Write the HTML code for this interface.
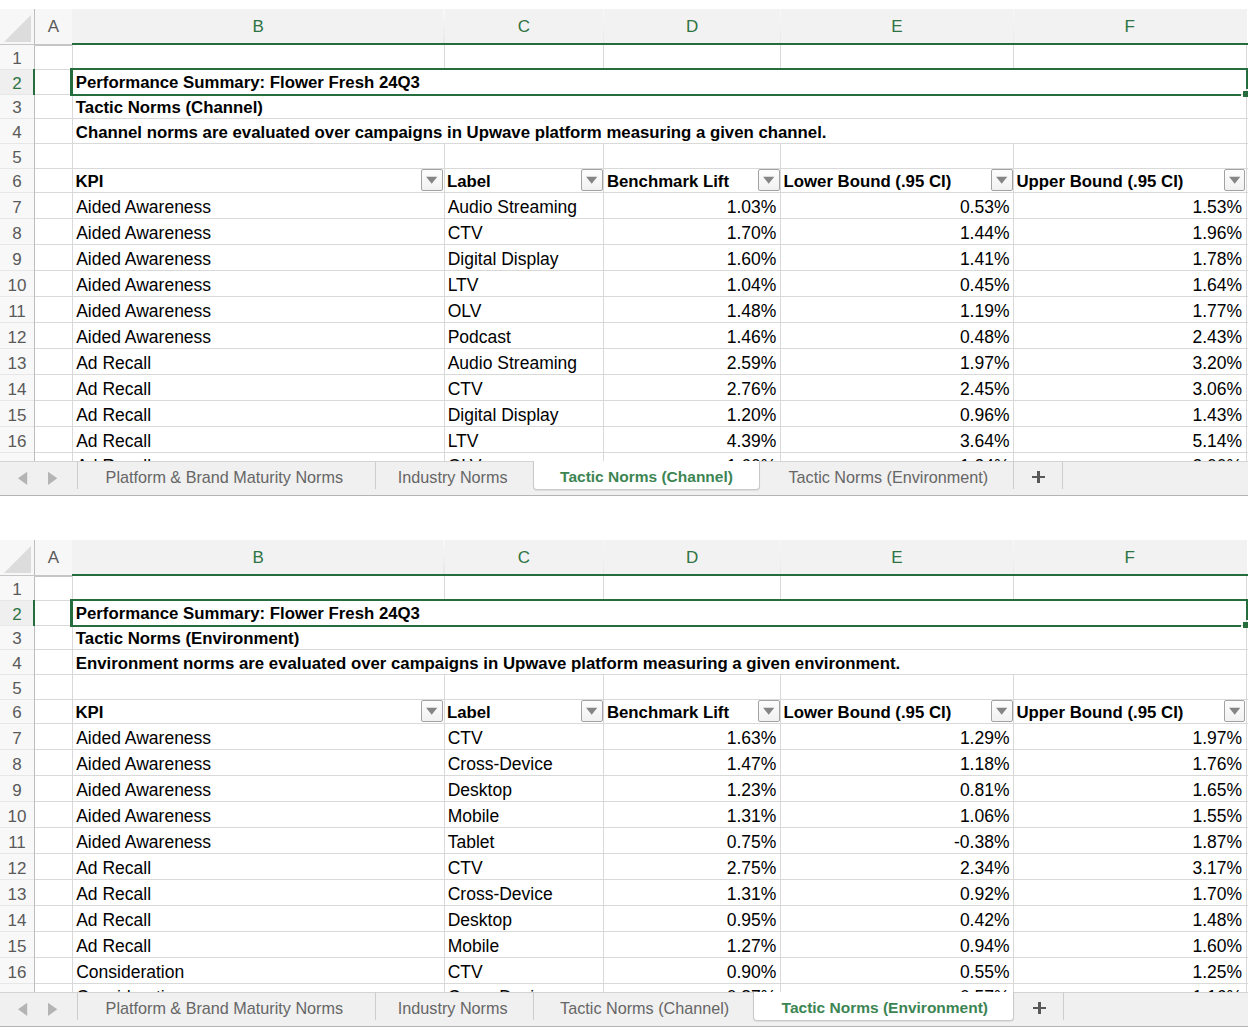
<!DOCTYPE html>
<html><head><meta charset="utf-8"><style>
html,body{margin:0;padding:0;background:#fff;}
body{width:1256px;height:1036px;position:relative;overflow:hidden;font-family:"Liberation Sans", sans-serif;}
.panel{position:absolute;left:0;width:1256px;height:500px;}
.abs{position:absolute;}
.hl{font-size:17px;line-height:20px;text-align:center;white-space:nowrap;}
.ct{font-size:17.5px;line-height:20px;white-space:nowrap;color:#000;}
.b{font-weight:bold;font-size:16.8px;}
.dd{width:21.9px;height:21.4px;box-sizing:border-box;border:1px solid #a3a3a3;border-radius:2px;background:linear-gradient(#fdfdfd,#f1f1f1);}
.tab{font-size:16.2px;line-height:20px;white-space:nowrap;color:#666;}
.act{font-size:15.5px;font-weight:bold;color:#3c8553;}
</style></head>
<body>
<div class="panel" style="top:0px">
<div class="abs" style="left:0;top:9px;width:34.4px;height:36px;background:#f7f7f7"></div>
<div class="abs" style="left:34.4px;top:9px;width:38px;height:36px;background:#f7f7f7"></div>
<div class="abs" style="left:72.4px;top:9px;width:1175px;height:36px;background:#f2f2f2"></div>
<svg class="abs" style="left:0;top:0" width="40" height="50"><polygon points="4,42 31,15 31,42" fill="#dcdcdc"/></svg>
<div class="abs" style="left:34px;top:9px;width:1px;height:452.4px;background:#bdbdbd"></div>
<div class="abs" style="left:443.4px;top:9px;width:1.2px;height:34px;background:linear-gradient(#f9f9f9,#e8e8e8)"></div>
<div class="abs" style="left:603.3px;top:9px;width:1.2px;height:34px;background:linear-gradient(#f9f9f9,#e8e8e8)"></div>
<div class="abs" style="left:779.9px;top:9px;width:1.2px;height:34px;background:linear-gradient(#f9f9f9,#e8e8e8)"></div>
<div class="abs" style="left:1012.9px;top:9px;width:1.2px;height:34px;background:linear-gradient(#f9f9f9,#e8e8e8)"></div>
<div class="abs" style="left:0;top:43.9px;width:72.4px;height:2px;background:#c6c6c6"></div>
<div class="abs" style="left:72.4px;top:43.3px;width:1175.5px;height:2.2px;background:#256d3d"></div>
<div class="abs hl" style="left:34.4px;width:37.9px;top:17.3px;color:#5a5a5a">A</div>
<div class="abs hl" style="left:72.4px;width:371.6px;top:17.3px;color:#2e7443">B</div>
<div class="abs hl" style="left:443.9px;width:160px;top:17.3px;color:#2e7443">C</div>
<div class="abs hl" style="left:603.9px;width:176.6px;top:17.3px;color:#2e7443">D</div>
<div class="abs hl" style="left:780.5px;width:233px;top:17.3px;color:#2e7443">E</div>
<div class="abs hl" style="left:1013.5px;width:232.6px;top:17.3px;color:#2e7443">F</div>
<div class="abs" style="left:0;top:45.4px;width:34px;height:416px;background:#f8f8f8"></div>
<div class="abs" style="left:0;top:69.3px;width:34px;height:25.1px;background:#efefef"></div>
<div class="abs" style="left:0;top:68.8px;width:34px;height:1px;background:#e7e7e7"></div>
<div class="abs" style="left:35px;top:68.8px;width:1212.5px;height:1px;background:#d9d9d9"></div>
<div class="abs" style="left:0;top:93.9px;width:34px;height:1px;background:#e7e7e7"></div>
<div class="abs" style="left:35px;top:93.9px;width:1212.5px;height:1px;background:#d9d9d9"></div>
<div class="abs" style="left:0;top:118.45px;width:34px;height:1px;background:#e7e7e7"></div>
<div class="abs" style="left:35px;top:118.45px;width:1212.5px;height:1px;background:#d9d9d9"></div>
<div class="abs" style="left:0;top:143.27px;width:34px;height:1px;background:#e7e7e7"></div>
<div class="abs" style="left:35px;top:143.27px;width:1212.5px;height:1px;background:#d9d9d9"></div>
<div class="abs" style="left:0;top:168.17px;width:34px;height:1px;background:#e7e7e7"></div>
<div class="abs" style="left:35px;top:168.17px;width:1212.5px;height:1px;background:#d9d9d9"></div>
<div class="abs" style="left:0;top:192.4px;width:34px;height:1px;background:#e7e7e7"></div>
<div class="abs" style="left:35px;top:192.4px;width:1212.5px;height:1px;background:#d9d9d9"></div>
<div class="abs" style="left:0;top:218.35px;width:34px;height:1px;background:#e7e7e7"></div>
<div class="abs" style="left:35px;top:218.35px;width:1212.5px;height:1px;background:#d9d9d9"></div>
<div class="abs" style="left:0;top:244.3px;width:34px;height:1px;background:#e7e7e7"></div>
<div class="abs" style="left:35px;top:244.3px;width:1212.5px;height:1px;background:#d9d9d9"></div>
<div class="abs" style="left:0;top:270.25px;width:34px;height:1px;background:#e7e7e7"></div>
<div class="abs" style="left:35px;top:270.25px;width:1212.5px;height:1px;background:#d9d9d9"></div>
<div class="abs" style="left:0;top:296.2px;width:34px;height:1px;background:#e7e7e7"></div>
<div class="abs" style="left:35px;top:296.2px;width:1212.5px;height:1px;background:#d9d9d9"></div>
<div class="abs" style="left:0;top:322.15px;width:34px;height:1px;background:#e7e7e7"></div>
<div class="abs" style="left:35px;top:322.15px;width:1212.5px;height:1px;background:#d9d9d9"></div>
<div class="abs" style="left:0;top:348.1px;width:34px;height:1px;background:#e7e7e7"></div>
<div class="abs" style="left:35px;top:348.1px;width:1212.5px;height:1px;background:#d9d9d9"></div>
<div class="abs" style="left:0;top:374.05px;width:34px;height:1px;background:#e7e7e7"></div>
<div class="abs" style="left:35px;top:374.05px;width:1212.5px;height:1px;background:#d9d9d9"></div>
<div class="abs" style="left:0;top:400px;width:34px;height:1px;background:#e7e7e7"></div>
<div class="abs" style="left:35px;top:400px;width:1212.5px;height:1px;background:#d9d9d9"></div>
<div class="abs" style="left:0;top:425.95px;width:34px;height:1px;background:#e7e7e7"></div>
<div class="abs" style="left:35px;top:425.95px;width:1212.5px;height:1px;background:#d9d9d9"></div>
<div class="abs" style="left:0;top:451.9px;width:34px;height:1px;background:#e7e7e7"></div>
<div class="abs" style="left:35px;top:451.9px;width:1212.5px;height:1px;background:#d9d9d9"></div>
<div class="abs" style="left:71.8px;top:45.4px;width:1px;height:416px;background:#d9d9d9"></div>
<div class="abs" style="left:443.5px;top:45.4px;width:1px;height:23.9px;background:#d9d9d9"></div>
<div class="abs" style="left:443.5px;top:143.5px;width:1px;height:317.9px;background:#d9d9d9"></div>
<div class="abs" style="left:603.4px;top:45.4px;width:1px;height:23.9px;background:#d9d9d9"></div>
<div class="abs" style="left:603.4px;top:143.5px;width:1px;height:317.9px;background:#d9d9d9"></div>
<div class="abs" style="left:780px;top:45.4px;width:1px;height:23.9px;background:#d9d9d9"></div>
<div class="abs" style="left:780px;top:143.5px;width:1px;height:317.9px;background:#d9d9d9"></div>
<div class="abs" style="left:1013px;top:45.4px;width:1px;height:23.9px;background:#d9d9d9"></div>
<div class="abs" style="left:1013px;top:143.5px;width:1px;height:317.9px;background:#d9d9d9"></div>
<div class="abs" style="left:1245.6px;top:45.4px;width:1px;height:416px;background:#d9d9d9"></div>
<div class="abs hl" style="left:0;width:34px;top:48.6px;color:#5a5a5a">1</div>
<div class="abs hl" style="left:0;width:34px;top:73.7px;color:#2e7443">2</div>
<div class="abs hl" style="left:0;width:34px;top:98.25px;color:#5a5a5a">3</div>
<div class="abs hl" style="left:0;width:34px;top:123.07px;color:#5a5a5a">4</div>
<div class="abs hl" style="left:0;width:34px;top:147.97px;color:#5a5a5a">5</div>
<div class="abs hl" style="left:0;width:34px;top:172.2px;color:#5a5a5a">6</div>
<div class="abs hl" style="left:0;width:34px;top:198.15px;color:#5a5a5a">7</div>
<div class="abs hl" style="left:0;width:34px;top:224.1px;color:#5a5a5a">8</div>
<div class="abs hl" style="left:0;width:34px;top:250.05px;color:#5a5a5a">9</div>
<div class="abs hl" style="left:0;width:34px;top:276px;color:#5a5a5a">10</div>
<div class="abs hl" style="left:0;width:34px;top:301.95px;color:#5a5a5a">11</div>
<div class="abs hl" style="left:0;width:34px;top:327.9px;color:#5a5a5a">12</div>
<div class="abs hl" style="left:0;width:34px;top:353.85px;color:#5a5a5a">13</div>
<div class="abs hl" style="left:0;width:34px;top:379.8px;color:#5a5a5a">14</div>
<div class="abs hl" style="left:0;width:34px;top:405.75px;color:#5a5a5a">15</div>
<div class="abs hl" style="left:0;width:34px;top:431.7px;color:#5a5a5a">16</div>
<div class="abs hl" style="left:0;width:34px;top:457.7px;color:#5a5a5a">17</div>
<div class="abs" style="left:32.6px;top:68.9px;width:2.4px;height:25.9px;background:#256d3d"></div>
<div class="abs" style="left:70.1px;top:67.6px;width:1177.8px;height:2.4px;background:#256d3d"></div>
<div class="abs" style="left:70.1px;top:67.6px;width:2.9px;height:28.4px;background:#256d3d"></div>
<div class="abs" style="left:70.1px;top:93.6px;width:1171px;height:2.4px;background:#256d3d"></div>
<div class="abs" style="left:1245.5px;top:67.6px;width:2.4px;height:21.7px;background:#256d3d"></div>
<div class="abs" style="left:1242.9px;top:91px;width:5px;height:6.4px;background:#256d3d"></div>
<div class="abs ct b" style="left:75.8px;top:73.3px">Performance Summary: Flower Fresh 24Q3</div>
<div class="abs ct b" style="left:75.8px;top:97.6px">Tactic Norms (Channel)</div>
<div class="abs ct b" style="left:75.8px;top:122.6px">Channel norms are evaluated over campaigns in Upwave platform measuring a given channel.</div>
<div class="abs ct b" style="left:75.4px;top:171.9px">KPI</div>
<div class="abs ct b" style="left:446.9px;top:171.9px">Label</div>
<div class="abs ct b" style="left:606.9px;top:171.9px">Benchmark Lift</div>
<div class="abs ct b" style="left:783.5px;top:171.9px">Lower Bound (.95 CI)</div>
<div class="abs ct b" style="left:1016.5px;top:171.9px">Upper Bound (.95 CI)</div>
<div class="abs dd" style="left:421.4px;top:169.3px"><svg width="21" height="21" style="position:absolute;left:-1px;top:-1px"><polygon points="5.1,7.8 16.3,7.8 10.7,14.8" fill="#858585"/></svg></div>
<div class="abs dd" style="left:581.3px;top:169.3px"><svg width="21" height="21" style="position:absolute;left:-1px;top:-1px"><polygon points="5.1,7.8 16.3,7.8 10.7,14.8" fill="#858585"/></svg></div>
<div class="abs dd" style="left:757.9px;top:169.3px"><svg width="21" height="21" style="position:absolute;left:-1px;top:-1px"><polygon points="5.1,7.8 16.3,7.8 10.7,14.8" fill="#858585"/></svg></div>
<div class="abs dd" style="left:990.9px;top:169.3px"><svg width="21" height="21" style="position:absolute;left:-1px;top:-1px"><polygon points="5.1,7.8 16.3,7.8 10.7,14.8" fill="#858585"/></svg></div>
<div class="abs dd" style="left:1223.5px;top:169.3px"><svg width="21" height="21" style="position:absolute;left:-1px;top:-1px"><polygon points="5.1,7.8 16.3,7.8 10.7,14.8" fill="#858585"/></svg></div>
<div class="abs ct" style="left:76.2px;top:197.35px">Aided Awareness</div>
<div class="abs ct" style="left:447.7px;top:197.35px">Audio Streaming</div>
<div class="abs ct" style="left:476.3px;width:300px;text-align:right;top:197.35px">1.03%</div>
<div class="abs ct" style="left:709.5px;width:300px;text-align:right;top:197.35px">0.53%</div>
<div class="abs ct" style="left:942.1px;width:300px;text-align:right;top:197.35px">1.53%</div>
<div class="abs ct" style="left:76.2px;top:223.3px">Aided Awareness</div>
<div class="abs ct" style="left:447.7px;top:223.3px">CTV</div>
<div class="abs ct" style="left:476.3px;width:300px;text-align:right;top:223.3px">1.70%</div>
<div class="abs ct" style="left:709.5px;width:300px;text-align:right;top:223.3px">1.44%</div>
<div class="abs ct" style="left:942.1px;width:300px;text-align:right;top:223.3px">1.96%</div>
<div class="abs ct" style="left:76.2px;top:249.25px">Aided Awareness</div>
<div class="abs ct" style="left:447.7px;top:249.25px">Digital Display</div>
<div class="abs ct" style="left:476.3px;width:300px;text-align:right;top:249.25px">1.60%</div>
<div class="abs ct" style="left:709.5px;width:300px;text-align:right;top:249.25px">1.41%</div>
<div class="abs ct" style="left:942.1px;width:300px;text-align:right;top:249.25px">1.78%</div>
<div class="abs ct" style="left:76.2px;top:275.2px">Aided Awareness</div>
<div class="abs ct" style="left:447.7px;top:275.2px">LTV</div>
<div class="abs ct" style="left:476.3px;width:300px;text-align:right;top:275.2px">1.04%</div>
<div class="abs ct" style="left:709.5px;width:300px;text-align:right;top:275.2px">0.45%</div>
<div class="abs ct" style="left:942.1px;width:300px;text-align:right;top:275.2px">1.64%</div>
<div class="abs ct" style="left:76.2px;top:301.15px">Aided Awareness</div>
<div class="abs ct" style="left:447.7px;top:301.15px">OLV</div>
<div class="abs ct" style="left:476.3px;width:300px;text-align:right;top:301.15px">1.48%</div>
<div class="abs ct" style="left:709.5px;width:300px;text-align:right;top:301.15px">1.19%</div>
<div class="abs ct" style="left:942.1px;width:300px;text-align:right;top:301.15px">1.77%</div>
<div class="abs ct" style="left:76.2px;top:327.1px">Aided Awareness</div>
<div class="abs ct" style="left:447.7px;top:327.1px">Podcast</div>
<div class="abs ct" style="left:476.3px;width:300px;text-align:right;top:327.1px">1.46%</div>
<div class="abs ct" style="left:709.5px;width:300px;text-align:right;top:327.1px">0.48%</div>
<div class="abs ct" style="left:942.1px;width:300px;text-align:right;top:327.1px">2.43%</div>
<div class="abs ct" style="left:76.2px;top:353.05px">Ad Recall</div>
<div class="abs ct" style="left:447.7px;top:353.05px">Audio Streaming</div>
<div class="abs ct" style="left:476.3px;width:300px;text-align:right;top:353.05px">2.59%</div>
<div class="abs ct" style="left:709.5px;width:300px;text-align:right;top:353.05px">1.97%</div>
<div class="abs ct" style="left:942.1px;width:300px;text-align:right;top:353.05px">3.20%</div>
<div class="abs ct" style="left:76.2px;top:379px">Ad Recall</div>
<div class="abs ct" style="left:447.7px;top:379px">CTV</div>
<div class="abs ct" style="left:476.3px;width:300px;text-align:right;top:379px">2.76%</div>
<div class="abs ct" style="left:709.5px;width:300px;text-align:right;top:379px">2.45%</div>
<div class="abs ct" style="left:942.1px;width:300px;text-align:right;top:379px">3.06%</div>
<div class="abs ct" style="left:76.2px;top:404.95px">Ad Recall</div>
<div class="abs ct" style="left:447.7px;top:404.95px">Digital Display</div>
<div class="abs ct" style="left:476.3px;width:300px;text-align:right;top:404.95px">1.20%</div>
<div class="abs ct" style="left:709.5px;width:300px;text-align:right;top:404.95px">0.96%</div>
<div class="abs ct" style="left:942.1px;width:300px;text-align:right;top:404.95px">1.43%</div>
<div class="abs ct" style="left:76.2px;top:430.9px">Ad Recall</div>
<div class="abs ct" style="left:447.7px;top:430.9px">LTV</div>
<div class="abs ct" style="left:476.3px;width:300px;text-align:right;top:430.9px">4.39%</div>
<div class="abs ct" style="left:709.5px;width:300px;text-align:right;top:430.9px">3.64%</div>
<div class="abs ct" style="left:942.1px;width:300px;text-align:right;top:430.9px">5.14%</div>
<div class="abs ct" style="left:76.2px;top:456.05px">Ad Recall</div>
<div class="abs ct" style="left:447.7px;top:456.05px">OLV</div>
<div class="abs ct" style="left:476.3px;width:300px;text-align:right;top:456.05px">1.60%</div>
<div class="abs ct" style="left:709.5px;width:300px;text-align:right;top:456.05px">1.24%</div>
<div class="abs ct" style="left:942.1px;width:300px;text-align:right;top:456.05px">2.00%</div>
<div class="abs" style="left:0;top:461.4px;width:1248px;height:34px;background:#f0f0f0;border-top:1px solid #d4d4d4;box-sizing:border-box"></div>
<div class="abs" style="left:0;top:494.5px;width:1248px;height:1.9px;background:#b4b4b4"></div>
<svg class="abs" style="left:0;top:460px" width="80" height="36"><polygon points="27.2,11.7 27.2,25 18,18.3" fill="#b4b4b4"/><polygon points="48,11.7 48,25 57.3,18.3" fill="#b4b4b4"/></svg>
<div class="abs" style="left:77px;top:461.4px;width:1px;height:27.4px;background:#cdcdcd"></div>
<div class="abs" style="left:374.8px;top:461.4px;width:1px;height:27.4px;background:#cdcdcd"></div>
<div class="abs" style="left:1012.8px;top:461.4px;width:1px;height:27.4px;background:#cdcdcd"></div>
<div class="abs" style="left:1062px;top:461.4px;width:1px;height:27.4px;background:#cdcdcd"></div>
<div class="abs" style="left:533.3px;top:461.0px;width:226.3px;height:29.1px;background:#fff;border:1px solid #c9c9c9;border-top:none;border-radius:0 0 4px 4px;box-sizing:border-box;box-shadow:0 1px 1px rgba(0,0,0,0.08)"></div>
<div class="abs tab" style="left:105.6px;top:467.1px">Platform &amp; Brand Maturity Norms</div>
<div class="abs tab" style="left:397.8px;top:467.1px">Industry Norms</div>
<div class="abs tab act" style="left:560.1px;top:467.1px">Tactic Norms (Channel)</div>
<div class="abs tab" style="left:788.5px;top:467.1px">Tactic Norms (Environment)</div>
<div class="abs" style="left:1032.3px;top:475.8px;width:12.7px;height:2.5px;background:#585858"></div>
<div class="abs" style="left:1037.35px;top:470.9px;width:2.5px;height:12.4px;background:#585858"></div>
</div>
<div class="panel" style="top:531px">
<div class="abs" style="left:0;top:9px;width:34.4px;height:36px;background:#f7f7f7"></div>
<div class="abs" style="left:34.4px;top:9px;width:38px;height:36px;background:#f7f7f7"></div>
<div class="abs" style="left:72.4px;top:9px;width:1175px;height:36px;background:#f2f2f2"></div>
<svg class="abs" style="left:0;top:0" width="40" height="50"><polygon points="4,42 31,15 31,42" fill="#dcdcdc"/></svg>
<div class="abs" style="left:34px;top:9px;width:1px;height:452.4px;background:#bdbdbd"></div>
<div class="abs" style="left:443.4px;top:9px;width:1.2px;height:34px;background:linear-gradient(#f9f9f9,#e8e8e8)"></div>
<div class="abs" style="left:603.3px;top:9px;width:1.2px;height:34px;background:linear-gradient(#f9f9f9,#e8e8e8)"></div>
<div class="abs" style="left:779.9px;top:9px;width:1.2px;height:34px;background:linear-gradient(#f9f9f9,#e8e8e8)"></div>
<div class="abs" style="left:1012.9px;top:9px;width:1.2px;height:34px;background:linear-gradient(#f9f9f9,#e8e8e8)"></div>
<div class="abs" style="left:0;top:43.9px;width:72.4px;height:2px;background:#c6c6c6"></div>
<div class="abs" style="left:72.4px;top:43.3px;width:1175.5px;height:2.2px;background:#256d3d"></div>
<div class="abs hl" style="left:34.4px;width:37.9px;top:17.3px;color:#5a5a5a">A</div>
<div class="abs hl" style="left:72.4px;width:371.6px;top:17.3px;color:#2e7443">B</div>
<div class="abs hl" style="left:443.9px;width:160px;top:17.3px;color:#2e7443">C</div>
<div class="abs hl" style="left:603.9px;width:176.6px;top:17.3px;color:#2e7443">D</div>
<div class="abs hl" style="left:780.5px;width:233px;top:17.3px;color:#2e7443">E</div>
<div class="abs hl" style="left:1013.5px;width:232.6px;top:17.3px;color:#2e7443">F</div>
<div class="abs" style="left:0;top:45.4px;width:34px;height:416px;background:#f8f8f8"></div>
<div class="abs" style="left:0;top:69.3px;width:34px;height:25.1px;background:#efefef"></div>
<div class="abs" style="left:0;top:68.8px;width:34px;height:1px;background:#e7e7e7"></div>
<div class="abs" style="left:35px;top:68.8px;width:1212.5px;height:1px;background:#d9d9d9"></div>
<div class="abs" style="left:0;top:93.9px;width:34px;height:1px;background:#e7e7e7"></div>
<div class="abs" style="left:35px;top:93.9px;width:1212.5px;height:1px;background:#d9d9d9"></div>
<div class="abs" style="left:0;top:118.45px;width:34px;height:1px;background:#e7e7e7"></div>
<div class="abs" style="left:35px;top:118.45px;width:1212.5px;height:1px;background:#d9d9d9"></div>
<div class="abs" style="left:0;top:143.27px;width:34px;height:1px;background:#e7e7e7"></div>
<div class="abs" style="left:35px;top:143.27px;width:1212.5px;height:1px;background:#d9d9d9"></div>
<div class="abs" style="left:0;top:168.17px;width:34px;height:1px;background:#e7e7e7"></div>
<div class="abs" style="left:35px;top:168.17px;width:1212.5px;height:1px;background:#d9d9d9"></div>
<div class="abs" style="left:0;top:192.4px;width:34px;height:1px;background:#e7e7e7"></div>
<div class="abs" style="left:35px;top:192.4px;width:1212.5px;height:1px;background:#d9d9d9"></div>
<div class="abs" style="left:0;top:218.35px;width:34px;height:1px;background:#e7e7e7"></div>
<div class="abs" style="left:35px;top:218.35px;width:1212.5px;height:1px;background:#d9d9d9"></div>
<div class="abs" style="left:0;top:244.3px;width:34px;height:1px;background:#e7e7e7"></div>
<div class="abs" style="left:35px;top:244.3px;width:1212.5px;height:1px;background:#d9d9d9"></div>
<div class="abs" style="left:0;top:270.25px;width:34px;height:1px;background:#e7e7e7"></div>
<div class="abs" style="left:35px;top:270.25px;width:1212.5px;height:1px;background:#d9d9d9"></div>
<div class="abs" style="left:0;top:296.2px;width:34px;height:1px;background:#e7e7e7"></div>
<div class="abs" style="left:35px;top:296.2px;width:1212.5px;height:1px;background:#d9d9d9"></div>
<div class="abs" style="left:0;top:322.15px;width:34px;height:1px;background:#e7e7e7"></div>
<div class="abs" style="left:35px;top:322.15px;width:1212.5px;height:1px;background:#d9d9d9"></div>
<div class="abs" style="left:0;top:348.1px;width:34px;height:1px;background:#e7e7e7"></div>
<div class="abs" style="left:35px;top:348.1px;width:1212.5px;height:1px;background:#d9d9d9"></div>
<div class="abs" style="left:0;top:374.05px;width:34px;height:1px;background:#e7e7e7"></div>
<div class="abs" style="left:35px;top:374.05px;width:1212.5px;height:1px;background:#d9d9d9"></div>
<div class="abs" style="left:0;top:400px;width:34px;height:1px;background:#e7e7e7"></div>
<div class="abs" style="left:35px;top:400px;width:1212.5px;height:1px;background:#d9d9d9"></div>
<div class="abs" style="left:0;top:425.95px;width:34px;height:1px;background:#e7e7e7"></div>
<div class="abs" style="left:35px;top:425.95px;width:1212.5px;height:1px;background:#d9d9d9"></div>
<div class="abs" style="left:0;top:451.9px;width:34px;height:1px;background:#e7e7e7"></div>
<div class="abs" style="left:35px;top:451.9px;width:1212.5px;height:1px;background:#d9d9d9"></div>
<div class="abs" style="left:71.8px;top:45.4px;width:1px;height:416px;background:#d9d9d9"></div>
<div class="abs" style="left:443.5px;top:45.4px;width:1px;height:23.9px;background:#d9d9d9"></div>
<div class="abs" style="left:443.5px;top:143.5px;width:1px;height:317.9px;background:#d9d9d9"></div>
<div class="abs" style="left:603.4px;top:45.4px;width:1px;height:23.9px;background:#d9d9d9"></div>
<div class="abs" style="left:603.4px;top:143.5px;width:1px;height:317.9px;background:#d9d9d9"></div>
<div class="abs" style="left:780px;top:45.4px;width:1px;height:23.9px;background:#d9d9d9"></div>
<div class="abs" style="left:780px;top:143.5px;width:1px;height:317.9px;background:#d9d9d9"></div>
<div class="abs" style="left:1013px;top:45.4px;width:1px;height:23.9px;background:#d9d9d9"></div>
<div class="abs" style="left:1013px;top:143.5px;width:1px;height:317.9px;background:#d9d9d9"></div>
<div class="abs" style="left:1245.6px;top:45.4px;width:1px;height:416px;background:#d9d9d9"></div>
<div class="abs hl" style="left:0;width:34px;top:48.6px;color:#5a5a5a">1</div>
<div class="abs hl" style="left:0;width:34px;top:73.7px;color:#2e7443">2</div>
<div class="abs hl" style="left:0;width:34px;top:98.25px;color:#5a5a5a">3</div>
<div class="abs hl" style="left:0;width:34px;top:123.07px;color:#5a5a5a">4</div>
<div class="abs hl" style="left:0;width:34px;top:147.97px;color:#5a5a5a">5</div>
<div class="abs hl" style="left:0;width:34px;top:172.2px;color:#5a5a5a">6</div>
<div class="abs hl" style="left:0;width:34px;top:198.15px;color:#5a5a5a">7</div>
<div class="abs hl" style="left:0;width:34px;top:224.1px;color:#5a5a5a">8</div>
<div class="abs hl" style="left:0;width:34px;top:250.05px;color:#5a5a5a">9</div>
<div class="abs hl" style="left:0;width:34px;top:276px;color:#5a5a5a">10</div>
<div class="abs hl" style="left:0;width:34px;top:301.95px;color:#5a5a5a">11</div>
<div class="abs hl" style="left:0;width:34px;top:327.9px;color:#5a5a5a">12</div>
<div class="abs hl" style="left:0;width:34px;top:353.85px;color:#5a5a5a">13</div>
<div class="abs hl" style="left:0;width:34px;top:379.8px;color:#5a5a5a">14</div>
<div class="abs hl" style="left:0;width:34px;top:405.75px;color:#5a5a5a">15</div>
<div class="abs hl" style="left:0;width:34px;top:431.7px;color:#5a5a5a">16</div>
<div class="abs hl" style="left:0;width:34px;top:457.7px;color:#5a5a5a">17</div>
<div class="abs" style="left:32.6px;top:68.9px;width:2.4px;height:25.9px;background:#256d3d"></div>
<div class="abs" style="left:70.1px;top:67.6px;width:1177.8px;height:2.4px;background:#256d3d"></div>
<div class="abs" style="left:70.1px;top:67.6px;width:2.9px;height:28.4px;background:#256d3d"></div>
<div class="abs" style="left:70.1px;top:93.6px;width:1171px;height:2.4px;background:#256d3d"></div>
<div class="abs" style="left:1245.5px;top:67.6px;width:2.4px;height:21.7px;background:#256d3d"></div>
<div class="abs" style="left:1242.9px;top:91px;width:5px;height:6.4px;background:#256d3d"></div>
<div class="abs ct b" style="left:75.8px;top:73.3px">Performance Summary: Flower Fresh 24Q3</div>
<div class="abs ct b" style="left:75.8px;top:97.6px">Tactic Norms (Environment)</div>
<div class="abs ct b" style="left:75.8px;top:122.6px">Environment norms are evaluated over campaigns in Upwave platform measuring a given environment.</div>
<div class="abs ct b" style="left:75.4px;top:171.9px">KPI</div>
<div class="abs ct b" style="left:446.9px;top:171.9px">Label</div>
<div class="abs ct b" style="left:606.9px;top:171.9px">Benchmark Lift</div>
<div class="abs ct b" style="left:783.5px;top:171.9px">Lower Bound (.95 CI)</div>
<div class="abs ct b" style="left:1016.5px;top:171.9px">Upper Bound (.95 CI)</div>
<div class="abs dd" style="left:421.4px;top:169.3px"><svg width="21" height="21" style="position:absolute;left:-1px;top:-1px"><polygon points="5.1,7.8 16.3,7.8 10.7,14.8" fill="#858585"/></svg></div>
<div class="abs dd" style="left:581.3px;top:169.3px"><svg width="21" height="21" style="position:absolute;left:-1px;top:-1px"><polygon points="5.1,7.8 16.3,7.8 10.7,14.8" fill="#858585"/></svg></div>
<div class="abs dd" style="left:757.9px;top:169.3px"><svg width="21" height="21" style="position:absolute;left:-1px;top:-1px"><polygon points="5.1,7.8 16.3,7.8 10.7,14.8" fill="#858585"/></svg></div>
<div class="abs dd" style="left:990.9px;top:169.3px"><svg width="21" height="21" style="position:absolute;left:-1px;top:-1px"><polygon points="5.1,7.8 16.3,7.8 10.7,14.8" fill="#858585"/></svg></div>
<div class="abs dd" style="left:1223.5px;top:169.3px"><svg width="21" height="21" style="position:absolute;left:-1px;top:-1px"><polygon points="5.1,7.8 16.3,7.8 10.7,14.8" fill="#858585"/></svg></div>
<div class="abs ct" style="left:76.2px;top:197.35px">Aided Awareness</div>
<div class="abs ct" style="left:447.7px;top:197.35px">CTV</div>
<div class="abs ct" style="left:476.3px;width:300px;text-align:right;top:197.35px">1.63%</div>
<div class="abs ct" style="left:709.5px;width:300px;text-align:right;top:197.35px">1.29%</div>
<div class="abs ct" style="left:942.1px;width:300px;text-align:right;top:197.35px">1.97%</div>
<div class="abs ct" style="left:76.2px;top:223.3px">Aided Awareness</div>
<div class="abs ct" style="left:447.7px;top:223.3px">Cross-Device</div>
<div class="abs ct" style="left:476.3px;width:300px;text-align:right;top:223.3px">1.47%</div>
<div class="abs ct" style="left:709.5px;width:300px;text-align:right;top:223.3px">1.18%</div>
<div class="abs ct" style="left:942.1px;width:300px;text-align:right;top:223.3px">1.76%</div>
<div class="abs ct" style="left:76.2px;top:249.25px">Aided Awareness</div>
<div class="abs ct" style="left:447.7px;top:249.25px">Desktop</div>
<div class="abs ct" style="left:476.3px;width:300px;text-align:right;top:249.25px">1.23%</div>
<div class="abs ct" style="left:709.5px;width:300px;text-align:right;top:249.25px">0.81%</div>
<div class="abs ct" style="left:942.1px;width:300px;text-align:right;top:249.25px">1.65%</div>
<div class="abs ct" style="left:76.2px;top:275.2px">Aided Awareness</div>
<div class="abs ct" style="left:447.7px;top:275.2px">Mobile</div>
<div class="abs ct" style="left:476.3px;width:300px;text-align:right;top:275.2px">1.31%</div>
<div class="abs ct" style="left:709.5px;width:300px;text-align:right;top:275.2px">1.06%</div>
<div class="abs ct" style="left:942.1px;width:300px;text-align:right;top:275.2px">1.55%</div>
<div class="abs ct" style="left:76.2px;top:301.15px">Aided Awareness</div>
<div class="abs ct" style="left:447.7px;top:301.15px">Tablet</div>
<div class="abs ct" style="left:476.3px;width:300px;text-align:right;top:301.15px">0.75%</div>
<div class="abs ct" style="left:709.5px;width:300px;text-align:right;top:301.15px">-0.38%</div>
<div class="abs ct" style="left:942.1px;width:300px;text-align:right;top:301.15px">1.87%</div>
<div class="abs ct" style="left:76.2px;top:327.1px">Ad Recall</div>
<div class="abs ct" style="left:447.7px;top:327.1px">CTV</div>
<div class="abs ct" style="left:476.3px;width:300px;text-align:right;top:327.1px">2.75%</div>
<div class="abs ct" style="left:709.5px;width:300px;text-align:right;top:327.1px">2.34%</div>
<div class="abs ct" style="left:942.1px;width:300px;text-align:right;top:327.1px">3.17%</div>
<div class="abs ct" style="left:76.2px;top:353.05px">Ad Recall</div>
<div class="abs ct" style="left:447.7px;top:353.05px">Cross-Device</div>
<div class="abs ct" style="left:476.3px;width:300px;text-align:right;top:353.05px">1.31%</div>
<div class="abs ct" style="left:709.5px;width:300px;text-align:right;top:353.05px">0.92%</div>
<div class="abs ct" style="left:942.1px;width:300px;text-align:right;top:353.05px">1.70%</div>
<div class="abs ct" style="left:76.2px;top:379px">Ad Recall</div>
<div class="abs ct" style="left:447.7px;top:379px">Desktop</div>
<div class="abs ct" style="left:476.3px;width:300px;text-align:right;top:379px">0.95%</div>
<div class="abs ct" style="left:709.5px;width:300px;text-align:right;top:379px">0.42%</div>
<div class="abs ct" style="left:942.1px;width:300px;text-align:right;top:379px">1.48%</div>
<div class="abs ct" style="left:76.2px;top:404.95px">Ad Recall</div>
<div class="abs ct" style="left:447.7px;top:404.95px">Mobile</div>
<div class="abs ct" style="left:476.3px;width:300px;text-align:right;top:404.95px">1.27%</div>
<div class="abs ct" style="left:709.5px;width:300px;text-align:right;top:404.95px">0.94%</div>
<div class="abs ct" style="left:942.1px;width:300px;text-align:right;top:404.95px">1.60%</div>
<div class="abs ct" style="left:76.2px;top:430.9px">Consideration</div>
<div class="abs ct" style="left:447.7px;top:430.9px">CTV</div>
<div class="abs ct" style="left:476.3px;width:300px;text-align:right;top:430.9px">0.90%</div>
<div class="abs ct" style="left:709.5px;width:300px;text-align:right;top:430.9px">0.55%</div>
<div class="abs ct" style="left:942.1px;width:300px;text-align:right;top:430.9px">1.25%</div>
<div class="abs ct" style="left:76.2px;top:456.05px">Consideration</div>
<div class="abs ct" style="left:447.7px;top:456.05px">Cross-Device</div>
<div class="abs ct" style="left:476.3px;width:300px;text-align:right;top:456.05px">0.87%</div>
<div class="abs ct" style="left:709.5px;width:300px;text-align:right;top:456.05px">0.57%</div>
<div class="abs ct" style="left:942.1px;width:300px;text-align:right;top:456.05px">1.16%</div>
<div class="abs" style="left:0;top:461.4px;width:1248px;height:34px;background:#f0f0f0;border-top:1px solid #d4d4d4;box-sizing:border-box"></div>
<div class="abs" style="left:0;top:494.5px;width:1248px;height:1.9px;background:#b4b4b4"></div>
<svg class="abs" style="left:0;top:460px" width="80" height="36"><polygon points="27.2,11.7 27.2,25 18,18.3" fill="#b4b4b4"/><polygon points="48,11.7 48,25 57.3,18.3" fill="#b4b4b4"/></svg>
<div class="abs" style="left:77px;top:461.4px;width:1px;height:27.4px;background:#cdcdcd"></div>
<div class="abs" style="left:374.8px;top:461.4px;width:1px;height:27.4px;background:#cdcdcd"></div>
<div class="abs" style="left:533.3px;top:461.4px;width:1px;height:27.4px;background:#cdcdcd"></div>
<div class="abs" style="left:1063.4px;top:461.4px;width:1px;height:27.4px;background:#cdcdcd"></div>
<div class="abs" style="left:753.3px;top:461.0px;width:260.4px;height:29.1px;background:#fff;border:1px solid #c9c9c9;border-top:none;border-radius:0 0 4px 4px;box-sizing:border-box;box-shadow:0 1px 1px rgba(0,0,0,0.08)"></div>
<div class="abs tab" style="left:105.6px;top:467.1px">Platform &amp; Brand Maturity Norms</div>
<div class="abs tab" style="left:397.8px;top:467.1px">Industry Norms</div>
<div class="abs tab" style="left:560.1px;top:467.1px">Tactic Norms (Channel)</div>
<div class="abs tab act" style="left:781.6px;top:467.1px">Tactic Norms (Environment)</div>
<div class="abs" style="left:1033.2px;top:475.8px;width:12.7px;height:2.5px;background:#585858"></div>
<div class="abs" style="left:1038.25px;top:470.9px;width:2.5px;height:12.4px;background:#585858"></div>
</div>
</body></html>
